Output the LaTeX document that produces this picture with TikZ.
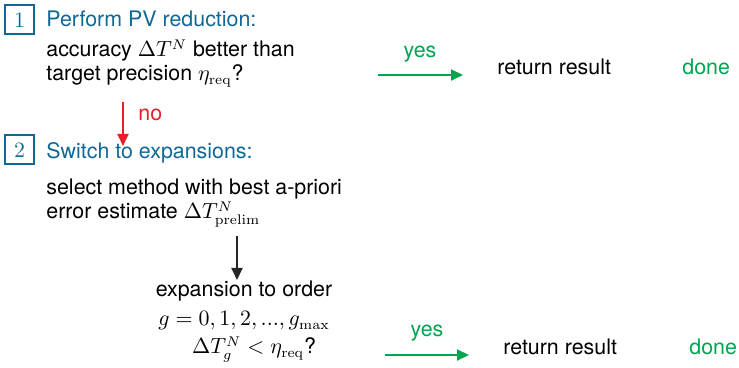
\documentclass[tikz,border=0pt]{standalone}
\usepackage[no-math]{fontspec}
\setmainfont{TeX Gyre Heros}
\usepackage{amsmath}
\usepackage{xcolor}
\usetikzlibrary{arrows.meta,positioning,calc}

\definecolor{stepblue}{RGB}{16,104,150}
\definecolor{yesgreen}{RGB}{0,165,80}
\definecolor{nored}{RGB}{232,30,40}

\begin{document}
\begin{tikzpicture}[
    x=0.5pt, y=-0.5pt,
    every node/.style={font=\fontsize{10.7}{12}\selectfont, inner sep=0pt},
    numbox/.style={rectangle, draw=stepblue, line width=1pt, minimum size=14.5pt, text=stepblue},
    head/.style={anchor=base west, text=stepblue},
    txt/.style={anchor=base west, align=left},
    arr/.style={-{Triangle[length=6pt, width=5.5pt]}, line width=1pt},
    yesarr/.style={arr, draw=yesgreen},
    lbl/.style={anchor=base, text=yesgreen}
]
    \useasboundingbox (0,0) rectangle (739,368);

    % step 1
    \node [numbox] (box1) at (19.5,20) {$1$};
    \node [head] (head1) at (46,27) {Perform PV reduction:};
    \node [txt] (q1) at (46,81) {accuracy $\Delta T^N$ better than\\
        target precision $\eta_{\mathrm{req}}$?};

    \coordinate (y1a) at (378,75);
    \coordinate (y1b) at (463,75);
    \node [lbl] (yes1) at (420,58) {yes};
    \node [anchor=base west] (ret1) at (497,75) {return result};
    \node [anchor=base west, text=yesgreen] (done1) at (682,75) {done};
    \draw [yesarr] (y1a) -- (y1b);

    % no branch
    \coordinate (n1a) at (123,102);
    \coordinate (n1b) at (123,146);
    \draw [arr, draw=nored] (n1a) -- (n1b);
    \node [anchor=base west, text=nored] (no1) at (138,121) {no};

    % step 2
    \node [numbox] (box2) at (19.5,150) {$2$};
    \node [head] (head2) at (46,159) {Switch to expansions:};
    \node [txt] (q2) at (46,219) {select method with best a-priori\\
        error estimate $\Delta T^N_{\mathrm{prelim}}$};

    \coordinate (e1a) at (237,236);
    \coordinate (e1b) at (237,280);
    \draw [arr, draw=black!85] (e1a) -- (e1b);

    \node [anchor=base, align=center] (q3) at (244,354) {expansion to order\\[2.5pt]
        $g=0,1,2,...,g_{\max}$\\[2pt]
        \hspace*{10pt}$\Delta T^N_g<\eta_{\mathrm{req}}$?};

    \coordinate (y2a) at (385,355);
    \coordinate (y2b) at (469,355);
    \node [lbl] (yes2) at (427,337) {yes};
    \node [anchor=base west] (ret2) at (503,355) {return result};
    \node [anchor=base west, text=yesgreen] (done2) at (689,355) {done};
    \draw [yesarr] (y2a) -- (y2b);
\end{tikzpicture}
\end{document}
